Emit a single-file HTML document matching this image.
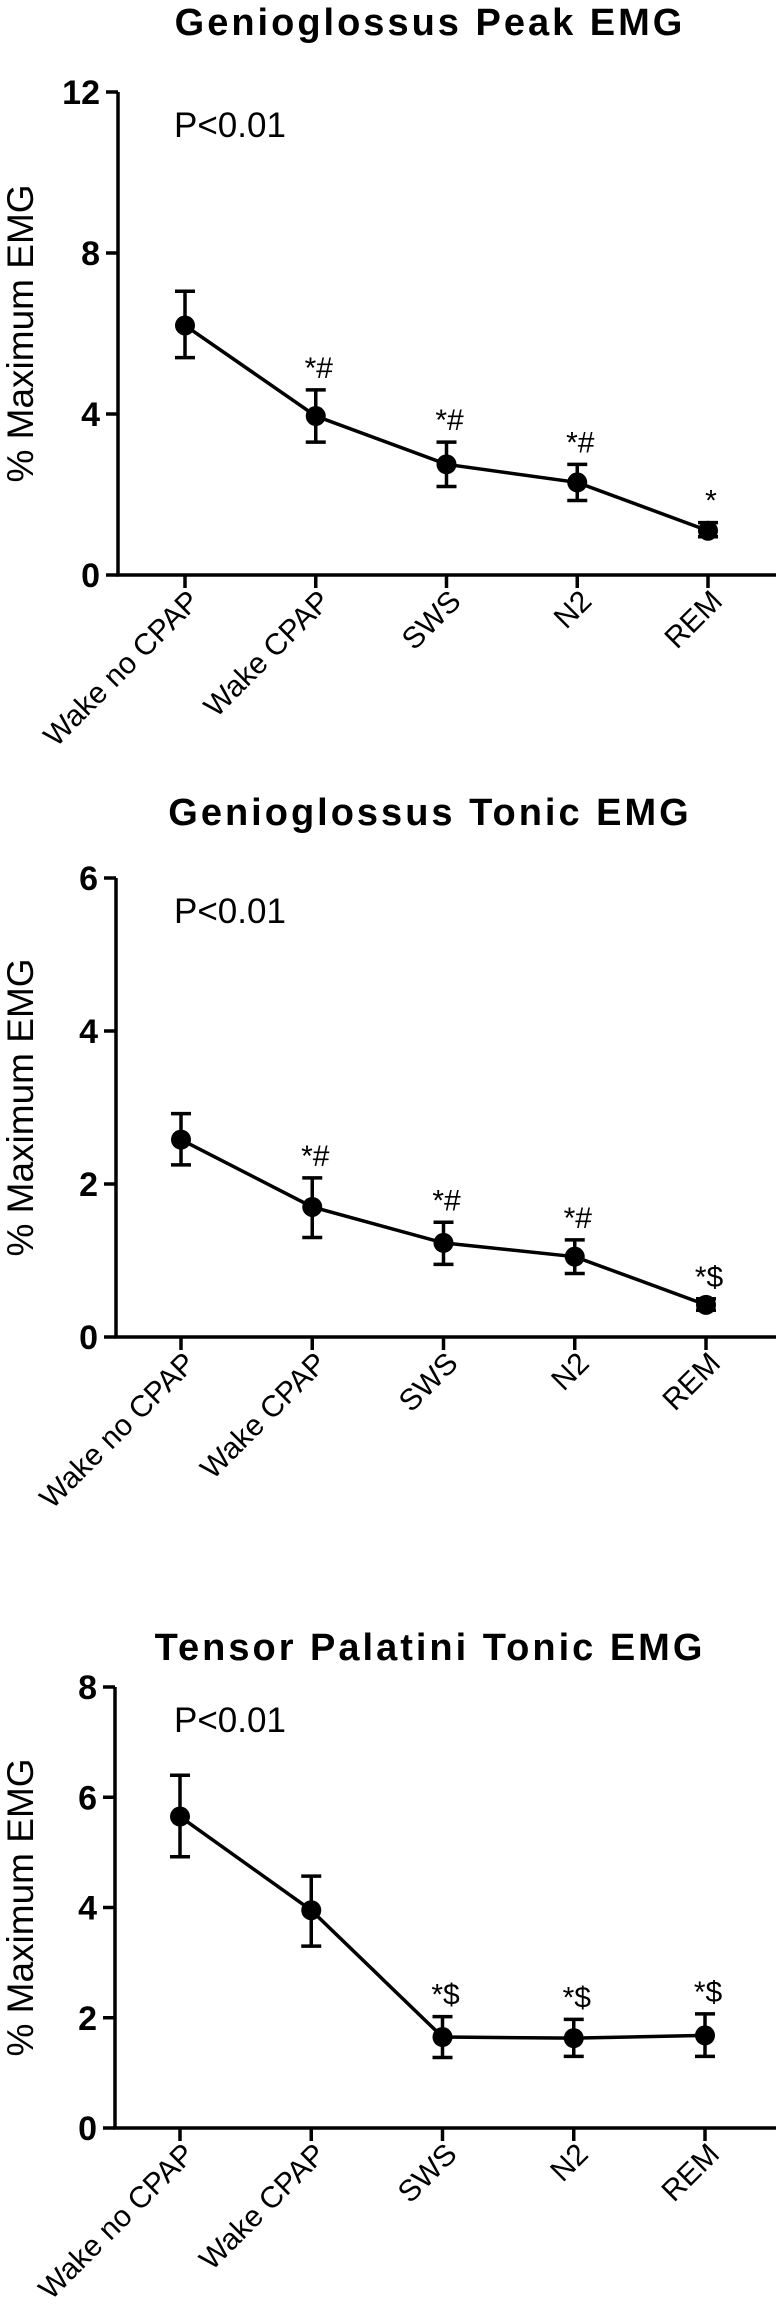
<!DOCTYPE html>
<html><head><meta charset="utf-8"><style>
body{margin:0;background:#fff;}
svg{display:block;font-family:"Liberation Sans",Arial,sans-serif;}
</style></head><body>
<svg id="fig" width="776" height="2319" viewBox="0 0 776 2319"></svg>
<script>
const categories = ["Wake no CPAP","Wake CPAP","SWS","N2","REM"];
const peakMean = [6.2,3.95,2.75,2.3,1.1];
const peakLow = [5.4,3.3,2.2,1.85,0.95];
const peakHigh = [7.05,4.6,3.3,2.75,1.3];
const peakMarks = ["","*#","*#","*#","*"];
const peakTicks = [0,4,8,12];
const gtMean = [2.58,1.7,1.23,1.05,0.42];
const gtLow = [2.25,1.3,0.95,0.83,0.35];
const gtHigh = [2.92,2.08,1.5,1.27,0.5];
const gtMarks = ["","*#","*#","*#","*$"];
const gtTicks = [0,2,4,6];
const tpMean = [5.65,3.95,1.65,1.63,1.68];
const tpLow = [4.92,3.3,1.28,1.3,1.3];
const tpHigh = [6.4,4.57,2.02,1.97,2.07];
const tpMarks = ["","","*$","*$","*$"];
const tpTicks = [0,2,4,6,8];

const NS="http://www.w3.org/2000/svg";
const svg=document.getElementById('fig');
function mk(tag,attrs,parent,text){const e=document.createElementNS(NS,tag);for(const k in attrs)e.setAttribute(k,attrs[k]);if(text!==undefined)e.textContent=text;(parent||svg).appendChild(e);return e;}

function chart(id,title,titleY,axX,yTop,yBot,ymax,xs,mean,lo,hi,marks,ticks){
  const g=mk('g',{});
  
  
  const sy=v=>yBot-(v/ymax)*(yBot-yTop);
  const sx=i=>xs[0]+i*(xs[1]-xs[0]);
  const t=mk('text',{x:430,y:titleY,'text-anchor':'middle','font-size':38,'font-weight':'bold','letter-spacing':3},g,title);
  
  
  const ya=mk('line',{x1:axX,y1:yTop,x2:axX,y2:yBot+1.5,stroke:'#000','stroke-width':3.5},g);
  
  
  const xa=mk('line',{x1:axX-1.5,y1:yBot,x2:776,y2:yBot,stroke:'#000','stroke-width':3.5},g);
  
  
  ticks.forEach(v=>{
    mk('line',{x1:axX-12,y1:sy(v),x2:axX,y2:sy(v),stroke:'#000','stroke-width':3.5},g);
    const tl=mk('text',{x:axX-18,y:sy(v)+12,'text-anchor':'end','font-size':34,'font-weight':'bold'},g,String(v));
    
    
  });
  const yt=mk('text',{x:0,y:0,'text-anchor':'middle','font-size':37,transform:`translate(33,${(yTop+yBot)/2}) rotate(-90)`},g,'% Maximum EMG');
  
  
  const p=mk('text',{x:174,y:yTop+45,'font-size':35},g,'P<0.01');
  
  
  categories.forEach((c,i)=>{
    const x=sx(i);
    mk('line',{x1:x,y1:yBot,x2:x,y2:yBot+13,stroke:'#000','stroke-width':3.5},g);
    const xl=mk('text',{x:0,y:0,'text-anchor':'end','font-size':30,transform:`translate(${x+16},${yBot+28}) rotate(-45)`},g,c);
    
    
  });
  const pts=mean.map((v,i)=>sx(i)+','+sy(v)).join(' ');
  const ln=mk('polyline',{points:pts,fill:'none',stroke:'#000','stroke-width':3.5},g);
  
  
  mean.forEach((v,i)=>{
    const x=sx(i);
    const eb=mk('path',{d:`M${x},${sy(lo[i])}V${sy(hi[i])}M${x-10},${sy(lo[i])}H${x+10}M${x-10},${sy(hi[i])}H${x+10}`,stroke:'#000','stroke-width':3.5,fill:'none'},g);
    
    
    const c=mk('circle',{cx:x,cy:sy(v),r:10,fill:'#000'},g);
    
    
    if(marks[i]){
      const m=mk('text',{x:x+3,y:sy(hi[i])-12,'text-anchor':'middle','font-size':30},g,marks[i]);
      
      
    }
  });
}
chart('genioglossus-peak-chart','Genioglossus Peak EMG',35,118,92,575,12,[185,315.75],peakMean,peakLow,peakHigh,peakMarks,peakTicks);
chart('genioglossus-tonic-chart','Genioglossus Tonic EMG',825,116,878,1337,6,[181,312.25],gtMean,gtLow,gtHigh,gtMarks,gtTicks);
chart('tensor-palatini-chart','Tensor Palatini Tonic EMG',1660,115,1687,2128,8,[180,311.25],tpMean,tpLow,tpHigh,tpMarks,tpTicks);
</script>
</body></html>
